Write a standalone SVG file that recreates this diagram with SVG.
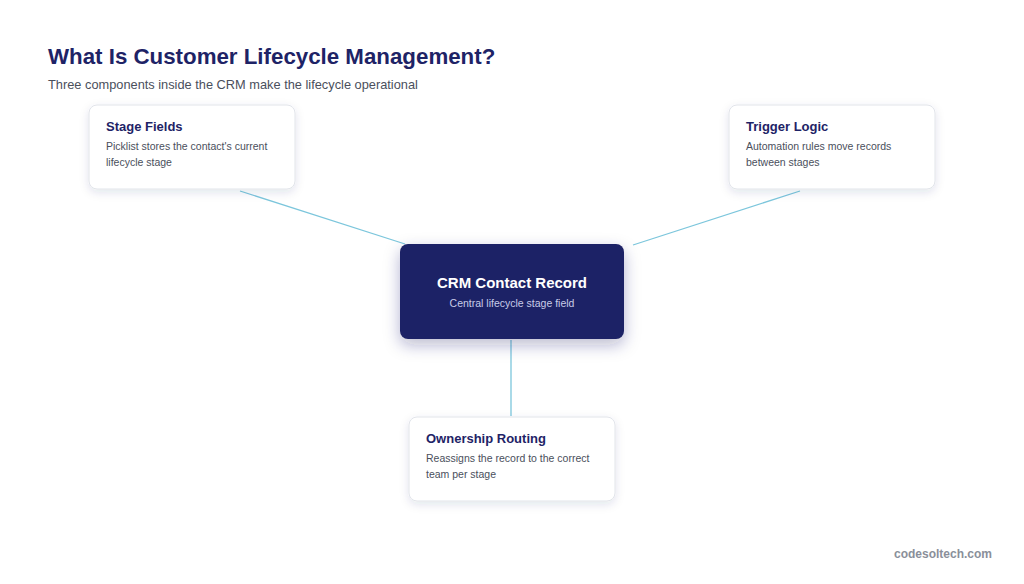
<svg xmlns="http://www.w3.org/2000/svg" width="1024" height="584" viewBox="0 0 1024 584">
<defs>
<filter id="sh" x="-20%" y="-20%" width="140%" height="150%"><feDropShadow dx="0" dy="3" stdDeviation="5" flood-color="#1e2a6a" flood-opacity="0.12"/></filter>
<filter id="sh2" x="-20%" y="-20%" width="140%" height="160%"><feDropShadow dx="0" dy="6" stdDeviation="8" flood-color="#1e2166" flood-opacity="0.3"/></filter>
</defs>
<style>
.card{fill:#fff;stroke:#e1e4ea;stroke-width:1}
.t{font-family:"Liberation Sans",Arial,sans-serif;font-weight:bold;font-size:13px;fill:#1e2366}
.d{font-family:"Liberation Sans",Arial,sans-serif;font-size:10.5px;fill:#4a4f5c}
.c{stroke:#7cc6dc;stroke-width:1.3;fill:none}
</style>
<rect width="1024" height="584" fill="#fff"/>
<text x="48" y="64" font-family="Liberation Sans,Arial,sans-serif" font-weight="bold" font-size="22.3" fill="#1e2366">What Is Customer Lifecycle Management?</text>
<text x="48" y="89" font-family="Liberation Sans,Arial,sans-serif" font-size="12.8" fill="#4a4f5c">Three components inside the CRM make the lifecycle operational</text>
<g id="connectors">
<line class="c" x1="240" y1="191" x2="405" y2="244"/>
<line class="c" x1="800" y1="191" x2="633" y2="245"/>
<line class="c" x1="511" y1="340" x2="511" y2="416"/>
</g>
<g id="center">
<rect x="400" y="244" width="224" height="95" rx="8" fill="#1e2366" filter="url(#sh2)"/>
<text x="512" y="288" text-anchor="middle" font-family="Liberation Sans,Arial,sans-serif" font-weight="bold" font-size="15" fill="#fff">CRM Contact Record</text>
<text x="512" y="307" text-anchor="middle" font-family="Liberation Sans,Arial,sans-serif" font-size="10.5" fill="#c8cce8">Central lifecycle stage field</text>
</g>
<g id="stage">
<rect class="card" x="89" y="105" width="206" height="84" rx="8" filter="url(#sh)"/>
<text class="t" x="106" y="131">Stage Fields</text>
<text class="d" x="106" y="150">Picklist stores the contact's current</text>
<text class="d" x="106" y="166">lifecycle stage</text>
</g>
<g id="trigger">
<rect class="card" x="729" y="105" width="206" height="84" rx="8" filter="url(#sh)"/>
<text class="t" x="746" y="131">Trigger Logic</text>
<text class="d" x="746" y="150">Automation rules move records</text>
<text class="d" x="746" y="166">between stages</text>
</g>
<g id="ownership">
<rect class="card" x="409" y="417" width="206" height="84" rx="8" filter="url(#sh)"/>
<text class="t" x="426" y="443">Ownership Routing</text>
<text class="d" x="426" y="462">Reassigns the record to the correct</text>
<text class="d" x="426" y="478">team per stage</text>
</g>
<text x="992" y="558" text-anchor="end" font-family="Liberation Sans,Arial,sans-serif" font-weight="bold" font-size="12" fill="#8a8f9a">codesoltech.com</text>
</svg>
